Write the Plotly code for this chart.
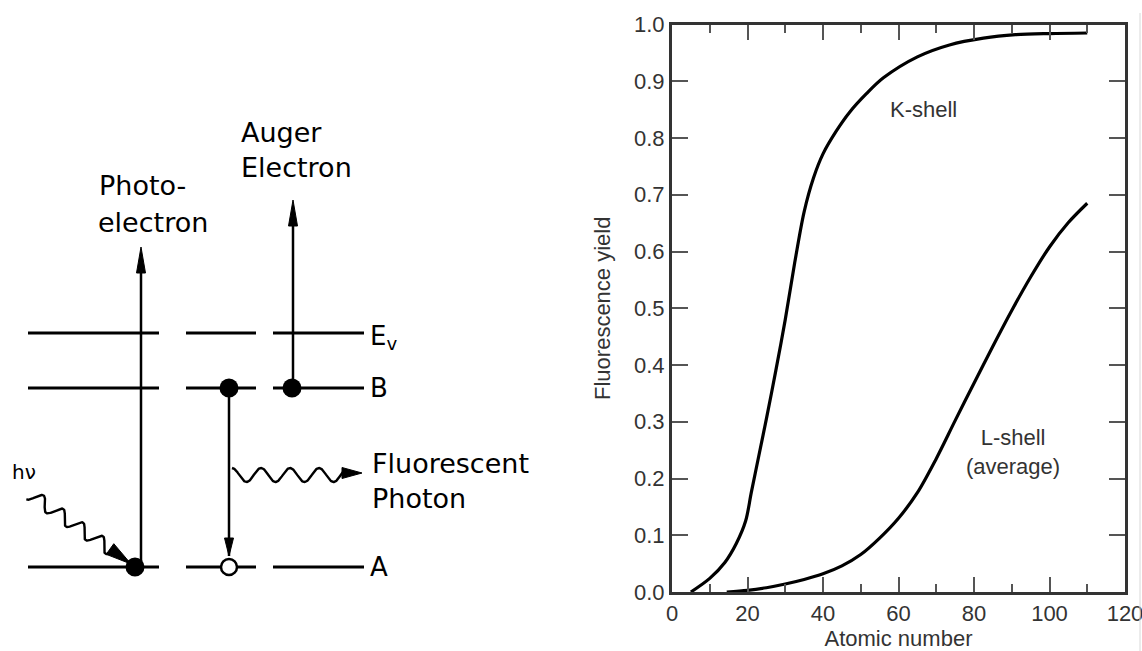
import numpy as np
import plotly.graph_objects as go

W, H = 1142, 651

# ---------------- chart data ----------------
z_k = [5, 10, 14, 17, 19.5, 21, 23, 25, 27.5, 30, 32.5, 35, 37.5, 40, 43.5, 47, 51.5, 56, 65, 73.5, 82.5, 91, 100, 110]
y_k = [0.0, 0.024, 0.052, 0.085, 0.125, 0.175, 0.24, 0.305, 0.39, 0.48, 0.58, 0.67, 0.73, 0.772, 0.812, 0.845,
       0.878, 0.906, 0.943, 0.964, 0.976, 0.982, 0.984, 0.985]
z_l = [14.5, 20, 25, 30, 35, 40, 45, 50, 55, 60, 65, 70, 75, 80, 85, 90, 95, 100, 105, 110]
y_l = [0.0, 0.003, 0.0075, 0.014, 0.022, 0.032, 0.046, 0.066, 0.095, 0.13, 0.175, 0.235, 0.302, 0.368, 0.433,
       0.496, 0.555, 0.608, 0.651, 0.685]
x_ticks = [0, 20, 40, 60, 80, 100, 120]
y_ticks = [0.0, 0.1, 0.2, 0.3, 0.4, 0.5, 0.6, 0.7, 0.8, 0.9, 1.0]
curve_names = ["K-shell", "L-shell<br>(average)"]

# ---------------- diagram layout (pixel units on a hidden axis pair) ----------------
level_labels = ["E<sub>v</sub>", "B", "A"]
level_y = [333, 388, 567]
column_spans = [(28, 159), (186, 256), (273, 364)]

CHART_FONT = "Liberation Sans, Arial, sans-serif"
DIAG_FONT = "DejaVu Sans, sans-serif"

fig = go.Figure()

# ---- chart curves
fig.add_trace(go.Scatter(x=z_k, y=y_k, mode="lines", line=dict(color="black", width=3.2, shape="spline", smoothing=0.9),
                         hoverinfo="skip", name="K-shell"))
fig.add_trace(go.Scatter(x=z_l, y=y_l, mode="lines", line=dict(color="black", width=3.2, shape="spline", smoothing=0.9),
                         hoverinfo="skip", name="L-shell"))

# ---- diagram
def add_line(xs, ys, width=3):
    fig.add_trace(go.Scatter(x=xs, y=ys, mode="lines", line=dict(color="black", width=width),
                             xaxis="x2", yaxis="y2", hoverinfo="skip"))

for ly in level_y:
    for (a, b) in column_spans:
        add_line([a, b], [ly, ly], 3)

# vertical transitions
add_line([141, 141], [567, 262], 2.5)   # photo-electron
add_line([293, 293], [388, 215], 2.5)   # auger
add_line([229, 229], [388, 556], 2.5)   # fluorescence decay


def wave(p0, p1, amp, wl, phase=0.0, n=300):
    p0 = np.array(p0, float); p1 = np.array(p1, float)
    d = p1 - p0
    L = np.hypot(*d)
    u = d / L
    nrm = np.array([-u[1], u[0]])
    s = np.linspace(0, L, n)
    off = amp * np.sin(2 * np.pi * s / wl + phase)
    pts = p0[None, :] + s[:, None] * u[None, :] + off[:, None] * nrm[None, :]
    return pts[:, 0], pts[:, 1]

wx, wy = wave((30, 494), (113, 551), 6.5, 24, phase=np.pi / 2)
add_line(list(wx), list(wy), 2.4)
fx, fy = wave((232, 475), (344, 475), 7, 29, phase=-np.pi / 2)
add_line(list(fx), list(fy), 2.4)

# dots
fig.add_trace(go.Scatter(x=[135, 229, 292], y=[567, 388, 388], mode="markers",
                         marker=dict(color="black", size=19, line=dict(width=0)),
                         xaxis="x2", yaxis="y2", hoverinfo="skip"))
fig.add_trace(go.Scatter(x=[229], y=[567], mode="markers",
                         marker=dict(color="white", size=16, line=dict(color="black", width=2.5)),
                         xaxis="x2", yaxis="y2", hoverinfo="skip"))

shapes = []

def arrowhead(tip, base, hw):
    tip = np.array(tip, float); base = np.array(base, float)
    d = tip - base
    u = d / np.hypot(*d)
    nrm = np.array([-u[1], u[0]])
    p1 = base + hw * nrm
    p2 = base - hw * nrm
    path = f"M {tip[0]:.1f},{tip[1]:.1f} L {p1[0]:.1f},{p1[1]:.1f} L {p2[0]:.1f},{p2[1]:.1f} Z"
    shapes.append(dict(type="path", path=path, xref="x2", yref="y2", fillcolor="black",
                       line=dict(color="black", width=1)))

arrowhead((141, 247), (141, 273), 4.5)
arrowhead((293, 200), (293, 226), 4.5)
arrowhead((229, 556), (229, 538), 4.5)
arrowhead((362, 473), (342, 473), 5.5)
arrowhead((131, 564), (110, 549), 6.5)

# thin border line at the right edge of the picture
shapes.append(dict(type="line", xref="paper", yref="paper", x0=1140 / W, x1=1140 / W, y0=0, y1=1 - 13 / H,
                   line=dict(color="#d8d8d8", width=1)))

annotations = []

def diag_text(txt, x, y, size=27, anchor="left"):
    annotations.append(dict(text=txt, x=x, y=y, xref="x2", yref="y2", showarrow=False,
                            xanchor=anchor, yanchor="middle",
                            font=dict(family=DIAG_FONT, size=size, color="black")))

diag_text("Photo-", 97, 185)
diag_text("electron", 96, 222)
diag_text("Auger", 239, 132)
diag_text("Electron", 239, 167)
diag_text("Fluorescent", 370, 463)
diag_text("Photon", 370, 498)
for lab, ly in zip(level_labels, level_y):
    diag_text(lab, 368, ly + (4 if "sub" in lab else 0), size=26)
diag_text("hν", 10, 472, size=20)

# chart labels
annotations.append(dict(text=curve_names[0], x=66.5, y=0.85, xref="x", yref="y", showarrow=False,
                        font=dict(family=CHART_FONT, size=22, color="#333")))
annotations.append(dict(text=curve_names[1], x=90.4, y=0.247, xref="x", yref="y", showarrow=False,
                        font=dict(family=CHART_FONT, size=22, color="#333")))

axis_common = dict(showgrid=False, zeroline=False, showline=True, linewidth=3, linecolor="#333",
                   mirror="ticks", ticks="inside", tickwidth=2, tickcolor="#555", ticklabeloverflow="allow",
                   tickfont=dict(family=CHART_FONT, size=22, color="#333"), automargin=False)

fig.update_layout(
    width=W, height=H, margin=dict(l=0, r=0, t=0, b=0),
    paper_bgcolor="white", plot_bgcolor="white", showlegend=False,
    xaxis=dict(domain=[672 / W, 1125 / W], range=[0, 120], tickvals=x_ticks, ticklen=15,
               minor=dict(dtick=10, ticks="inside", ticklen=8, tickwidth=2, tickcolor="#555", showgrid=False),
               title=dict(text="Atomic number", font=dict(family=CHART_FONT, size=22, color="#333"), standoff=10),
               anchor="y", **axis_common),
    yaxis=dict(domain=[1 - 592 / H, 1 - 24.5 / H], range=[0, 1], tickvals=y_ticks, tickformat=".1f", ticklen=16,
               title=dict(text="Fluorescence yield", font=dict(family=CHART_FONT, size=22, color="#333"), standoff=18),
               anchor="x", **axis_common),
    xaxis2=dict(domain=[0, 571 / W], range=[0, 571], visible=False, anchor="y2"),
    yaxis2=dict(domain=[0, 1], range=[H, 0], visible=False, anchor="x2"),
    shapes=shapes, annotations=annotations,
)

fig.write_html("out.html")
